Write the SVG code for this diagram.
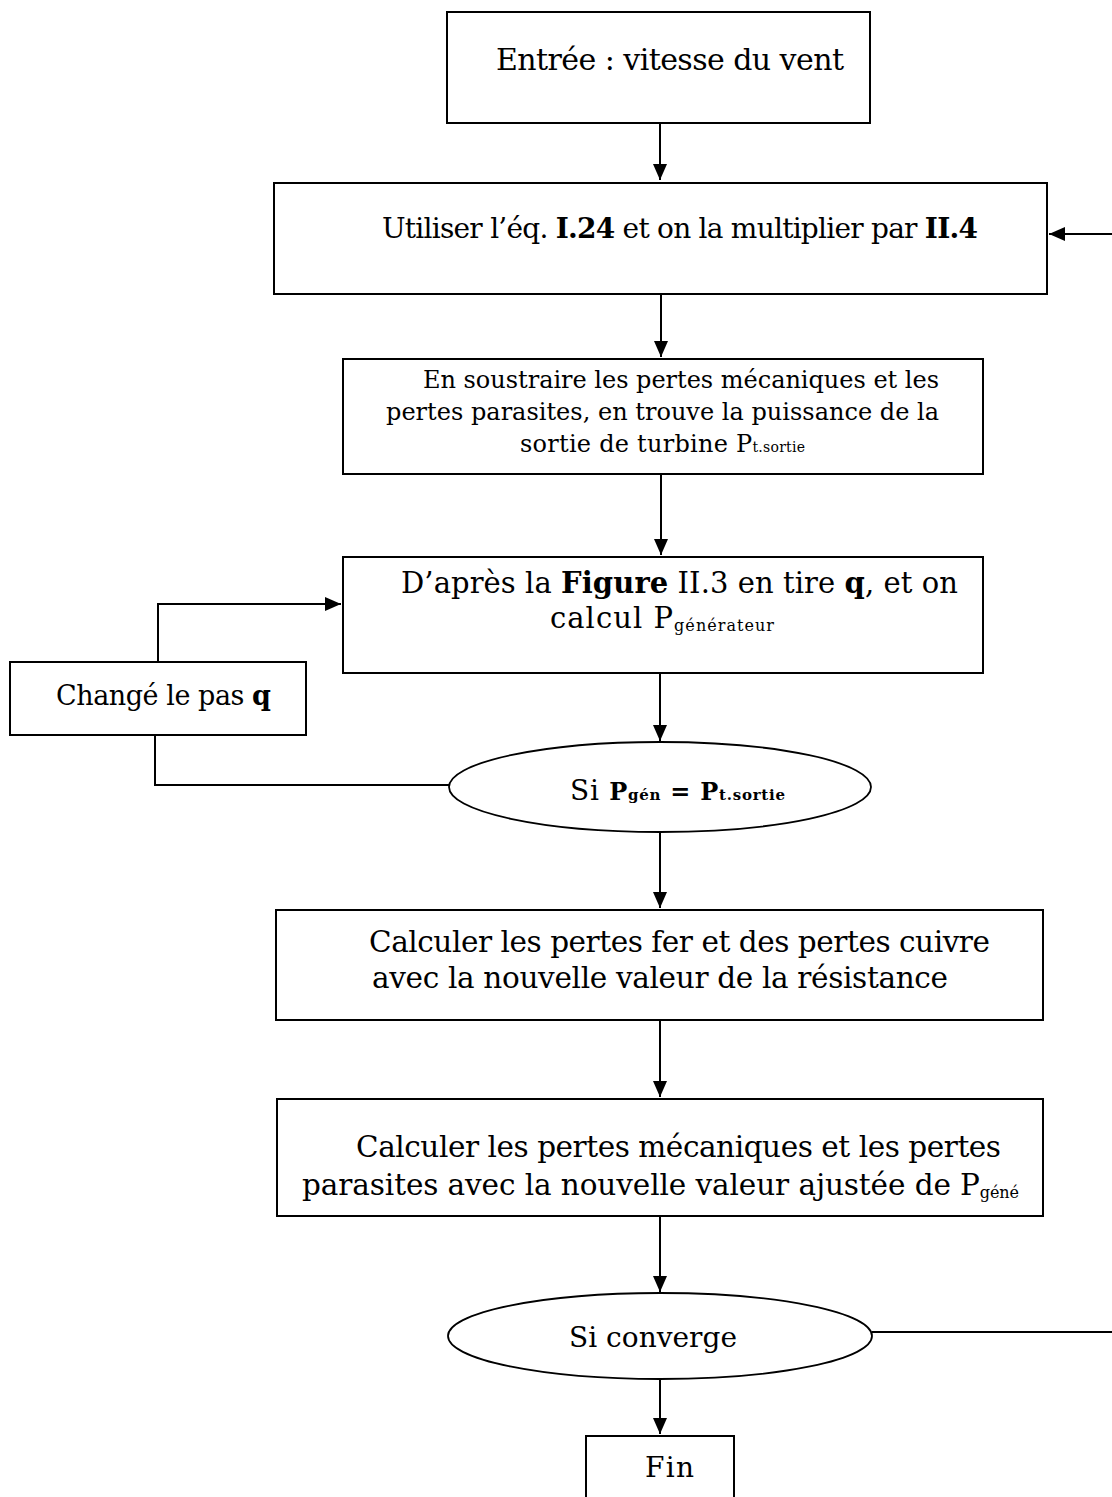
<svg xmlns="http://www.w3.org/2000/svg" width="1112" height="1497" viewBox="0 0 1112 1497">
<style>
.box{fill:#fff;stroke:#000;stroke-width:2}
.ell{fill:#fff;stroke:#000;stroke-width:1.8}
.ln{fill:none;stroke:#000;stroke-width:2}
text{font-family:"DejaVu Serif","Liberation Serif",serif;fill:#000}
.b{font-weight:bold}
</style>
<defs>
<marker id="ah" markerUnits="userSpaceOnUse" markerWidth="16" markerHeight="16" viewBox="0 0 16 16" refX="16" refY="8" orient="auto">
<path d="M0,1 L16,8 L0,15 Z" fill="#000"/>
</marker>
</defs>
<rect width="1112" height="1497" fill="#fff"/>
<g id="connectors">
<line class="ln" x1="660" y1="124" x2="660" y2="180" marker-end="url(#ah)"/>
<line class="ln" x1="1112" y1="234" x2="1049" y2="234" marker-end="url(#ah)"/>
<line class="ln" x1="661" y1="294" x2="661" y2="357" marker-end="url(#ah)"/>
<line class="ln" x1="661" y1="474" x2="661" y2="555" marker-end="url(#ah)"/>
<line class="ln" x1="660" y1="673" x2="660" y2="741" marker-end="url(#ah)"/>
<line class="ln" x1="660" y1="832" x2="660" y2="908" marker-end="url(#ah)"/>
<line class="ln" x1="660" y1="1020" x2="660" y2="1097" marker-end="url(#ah)"/>
<line class="ln" x1="660" y1="1216" x2="660" y2="1292" marker-end="url(#ah)"/>
<line class="ln" x1="660" y1="1380" x2="660" y2="1434" marker-end="url(#ah)"/>
<polyline class="ln" points="158,662 158,604 341,604" marker-end="url(#ah)"/>
<polyline class="ln" points="155,735 155,785 449,785"/>
<line class="ln" x1="872" y1="1332" x2="1112" y2="1332"/>
</g>
<g id="n1">
<rect class="box" x="447" y="12" width="423" height="111"/>
<text x="496" y="70" font-size="30" textLength="348">Entrée : vitesse du vent</text>
</g>
<g id="n2">
<rect class="box" x="274" y="183" width="773" height="111"/>
<text x="382" y="238" font-size="28" textLength="596">Utiliser l’éq. <tspan class="b">I.24</tspan> et on la multiplier par <tspan class="b">II.4</tspan></text>
</g>
<g id="n3">
<rect class="box" x="343" y="359" width="640" height="115"/>
<text x="423" y="388" font-size="24" textLength="516">En soustraire les pertes mécaniques et les</text>
<text x="386" y="420" font-size="24" textLength="553">pertes parasites, en trouve la puissance de la</text>
<text x="520" y="452" font-size="24" textLength="285">sortie de turbine P<tspan font-size="14">t.sortie</tspan></text>
</g>
<g id="n4">
<rect class="box" x="343" y="557" width="640" height="116"/>
<text x="401" y="593" font-size="29" textLength="557">D’après la <tspan class="b">Figure</tspan> II.3 en tire <tspan class="b">q</tspan>, et on</text>
<text x="550" y="628" font-size="29" textLength="224">calcul P<tspan font-size="16" dy="3">générateur</tspan></text>
</g>
<g id="n5">
<rect class="box" x="10" y="662" width="296" height="73"/>
<text x="56" y="705" font-size="27" textLength="215">Changé le pas <tspan class="b">q</tspan></text>
</g>
<g id="n6">
<ellipse class="ell" cx="660" cy="787" rx="211" ry="45"/>
<text x="570" y="800" font-size="28" textLength="215">Si <tspan class="b" font-size="24">P</tspan><tspan class="b" font-size="15">gén</tspan><tspan class="b" font-size="24"> = P</tspan><tspan class="b" font-size="15">t.sortie</tspan></text>
</g>
<g id="n7">
<rect class="box" x="276" y="910" width="767" height="110"/>
<text x="369" y="952" font-size="29.5" textLength="621">Calculer les pertes fer et des pertes cuivre</text>
<text x="372" y="988" font-size="29.5" textLength="576">avec la nouvelle valeur de la résistance</text>
</g>
<g id="n8">
<rect class="box" x="277" y="1099" width="766" height="117"/>
<text x="356" y="1157" font-size="29.5" textLength="645">Calculer les pertes mécaniques et les pertes</text>
<text x="302" y="1195" font-size="29.5" textLength="717">parasites avec la nouvelle valeur ajustée de P<tspan font-size="16" dy="3">géné</tspan></text>
</g>
<g id="n9">
<ellipse class="ell" cx="660" cy="1336" rx="212" ry="43"/>
<text x="569" y="1347" font-size="28" textLength="168">Si converge</text>
</g>
<g id="n10">
<rect class="box" x="586" y="1436" width="148" height="80"/>
<text x="645" y="1477" font-size="28" textLength="49">Fin</text>
</g>
</svg>
